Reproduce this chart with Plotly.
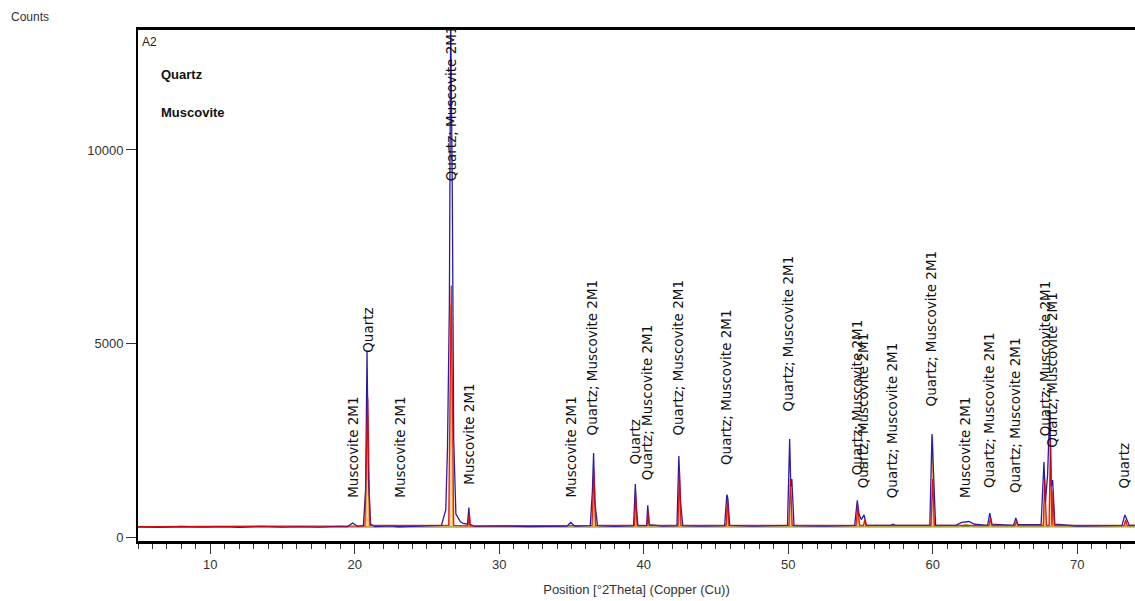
import plotly.graph_objects as go

obs_theta = [5.0, 6.5, 8.0, 9.5, 11.0, 12.0, 13.5, 15.0, 16.0, 17.5, 19.0, 19.5, 19.85, 20.2, 20.6, 20.75,
             20.85, 20.95, 21.1, 21.4, 22.5, 23.0, 24.5, 26.0,
             26.3, 26.42, 26.55, 26.64, 26.75, 26.85, 27.0, 27.3, 27.5, 27.8, 27.9, 27.98, 28.3,
             30.0, 32.0, 34.7, 34.95, 35.2, 36.3, 36.45, 36.53, 36.62, 36.8, 38.0, 39.3, 39.42, 39.5, 39.6,
             40.2, 40.28, 40.38, 41.3, 42.3, 42.43, 42.55, 42.7, 44.0, 45.6, 45.75, 45.82, 45.95,
             47.5, 49.95, 50.1, 50.18, 50.25, 50.4, 52.5, 54.6, 54.78, 54.9, 55.05, 55.25, 55.4,
             57.1, 57.25, 57.4, 59.8, 59.95, 60.05, 60.2, 61.6, 62.0, 62.5, 62.9,
             63.8, 63.95, 64.1, 65.6, 65.75, 65.9, 67.5, 67.7, 67.8, 67.95, 68.1, 68.2,
             68.3, 68.45, 70.0, 71.5, 73.1, 73.3, 73.45, 73.6, 74.0]
obs_counts = [265, 250, 272, 255, 268, 250, 275, 258, 270, 255, 275, 268, 360, 275, 300, 1200,
              4800, 1500, 330, 270, 290, 265, 285, 300,
              700, 2300, 6000, 13500, 9000, 2500, 600, 400, 350, 330, 760, 330, 275,
              290, 270, 285, 380, 285, 295, 1200, 2170, 900, 295, 275, 295, 1370, 700, 295,
              295, 820, 320, 280, 295, 2090, 900, 295, 280, 295, 1090, 1000, 300,
              280, 300, 2530, 1300, 1500, 295, 280, 300, 950, 600, 450, 570, 300,
              300, 330, 300, 300, 2660, 1500, 300, 300, 380, 400, 330,
              300, 620, 330, 300, 490, 320, 320, 1940, 900, 1600, 3280, 1300,
              1470, 330, 285, 300, 300, 570, 450, 300, 300]

# ---- calculated pattern (red) ----
calc_theta = [5.0, 20.7, 20.9, 21.05, 26.5, 26.68, 26.85, 27.82, 27.92, 28.0, 36.42, 36.55, 36.68,
              39.35, 39.45, 39.55, 40.22, 40.3, 40.4, 42.37, 42.47, 42.58, 45.7, 45.8, 45.9,
              50.05, 50.15, 50.28, 54.7, 54.8, 54.95, 55.2, 55.3, 55.4, 59.88, 60.0, 60.12,
              63.9, 64.0, 64.1, 65.7, 65.8, 65.9, 67.65, 67.75, 67.88, 68.05, 68.15, 68.25,
              68.32, 68.42, 73.25, 73.35, 73.45, 74.0]
calc_counts = [265, 290, 3600, 300, 300, 6500, 300, 290, 600, 290, 300, 1700, 300,
               300, 1100, 300, 300, 650, 300, 300, 1700, 300, 300, 950, 300,
               300, 1500, 300, 300, 800, 300, 300, 450, 300, 300, 1500, 300,
               300, 500, 300, 300, 420, 300, 300, 1500, 300, 300, 2500, 300,
               1200, 300, 300, 450, 300, 300]

# ---- phase profile (orange) ----
phase_theta = [5.0, 20.78, 20.88, 20.98, 26.55, 26.66, 26.78, 27.85, 27.9, 27.95, 36.47, 36.55, 36.63,
               39.4, 39.46, 39.52, 40.25, 40.3, 40.36, 42.42, 42.48, 42.54, 45.74, 45.8, 45.86,
               50.1, 50.17, 50.24, 54.75, 54.82, 54.9, 55.22, 55.28, 55.34, 59.94, 60.0, 60.07,
               61.8, 62.3, 62.8, 63.95, 64.0, 64.06, 65.75, 65.8, 65.86, 67.7, 67.76, 67.83,
               68.08, 68.16, 68.22, 68.28, 68.33, 68.4, 73.3, 73.35, 73.4, 74.0]
phase_counts = [258, 258, 4000, 258, 258, 6000, 258, 258, 450, 258, 258, 1500, 258,
                258, 900, 258, 258, 500, 258, 258, 1400, 258, 258, 1100, 258,
                258, 1300, 258, 258, 700, 258, 258, 380, 258, 258, 2600, 258,
                258, 330, 258, 258, 400, 258, 258, 350, 258, 258, 1300, 258,
                258, 2300, 258, 258, 900, 258, 258, 380, 258, 258]

# ---- background (green) ----
bg_theta = [5.0, 30.0, 60.0, 74.0]
bg_counts = [258, 262, 266, 266]

# ---- peak labels ----
label_theta = [19.83, 20.86, 23.08, 26.68, 27.85, 34.9, 36.44, 39.4, 40.24, 42.4, 45.7, 50.0,
               54.78, 55.2, 57.2, 59.9, 62.2, 63.9, 65.7, 67.8, 68.25, 73.3]
label_counts = [956, 4700, 956, 9150, 1290, 956, 2580, 1810, 1420, 2580, 1810, 3200,
                1550, 1215, 956, 3330, 956, 1215, 1085, 2560, 2250, 1215]
label_text = ["Muscovite 2M1", "Quartz", "Muscovite 2M1", "Quartz; Muscovite 2M1",
              "Muscovite 2M1", "Muscovite 2M1", "Quartz; Muscovite 2M1", "Quartz",
              "Quartz; Muscovite 2M1", "Quartz; Muscovite 2M1", "Quartz; Muscovite 2M1",
              "Quartz; Muscovite 2M1", "Quartz; Muscovite 2M1", "Quartz; Muscovite 2M1",
              "Quartz; Muscovite 2M1", "Quartz; Muscovite 2M1", "Muscovite 2M1",
              "Quartz; Muscovite 2M1", "Quartz; Muscovite 2M1", "Quartz; Muscovite 2M1",
              "Quartz; Muscovite 2M1", "Quartz"]

x_range = [5.0, 74.0]
y_range = [-103, 13100]
y_ticks = [0, 5000, 10000]
y_tick_labels = ["0", "5000", "10000"]

NARROW = "Liberation Sans Narrow, Liberation Sans, Arial"

fig = go.Figure()
fig.add_trace(go.Scatter(x=bg_theta, y=bg_counts, mode="lines",
                         line=dict(color="#2e8b2e", width=1), hoverinfo="skip"))
fig.add_trace(go.Scatter(x=phase_theta, y=phase_counts, mode="lines", fill="tonexty",
                         fillcolor="rgba(250,200,120,0.6)",
                         line=dict(color="#f0a030", width=1), hoverinfo="skip"))
fig.add_trace(go.Scatter(x=obs_theta, y=obs_counts, mode="lines",
                         line=dict(color="#2a1ca8", width=1.3), hoverinfo="skip"))
fig.add_trace(go.Scatter(x=calc_theta, y=calc_counts, mode="lines",
                         line=dict(color="rgba(225,0,0,0.85)", width=1.3), hoverinfo="skip"))

annotations = []
for t, c, s in zip(label_theta, label_counts, label_text):
    annotations.append(dict(x=t, y=c, xref="x", yref="y", text=s, textangle=-90,
                            showarrow=False, xanchor="center", yanchor="bottom",
                            font=dict(family="DejaVu Sans", size=13.5, color="#111")))

annotations += [
    dict(x=-0.108, y=1.025, xref="paper", yref="paper", text="Counts", showarrow=False,
         xanchor="center", yanchor="middle", font=dict(family=NARROW, size=12, color="#333")),
    dict(x=0.002, y=0.977, xref="paper", yref="paper", text="A2", showarrow=False,
         xanchor="left", yanchor="middle", font=dict(family=NARROW, size=12, color="#222")),
    dict(x=0.021, y=0.912, xref="paper", yref="paper", text="<b>Quartz</b>", showarrow=False,
         xanchor="left", yanchor="middle", font=dict(family=NARROW, size=13, color="#111")),
    dict(x=0.021, y=0.8395, xref="paper", yref="paper", text="<b>Muscovite</b>", showarrow=False,
         xanchor="left", yanchor="middle", font=dict(family=NARROW, size=13, color="#111")),
]

fig.update_layout(
    width=1135, height=601,
    margin=dict(l=138, r=0, t=30, b=60),
    paper_bgcolor="white", plot_bgcolor="white",
    showlegend=False,
    annotations=annotations,
    xaxis=dict(range=x_range, showgrid=False, zeroline=False,
               showline=True, linecolor="black", linewidth=2.5, mirror=True,
               ticks="outside", tick0=0, dtick=10, ticklen=10, tickwidth=1, tickcolor="#333",
               minor=dict(dtick=1, ticks="outside", ticklen=5, tickwidth=1, tickcolor="#333"),
               tickfont=dict(family=NARROW, size=13, color="#333"),
               title=dict(text="Position [°2Theta] (Copper (Cu))", standoff=14,
                          font=dict(family=NARROW, size=13, color="#333"))),
    yaxis=dict(range=y_range, showgrid=False, zeroline=False,
               showline=True, linecolor="black", linewidth=2,
               ticks="outside", tickvals=y_ticks, ticktext=y_tick_labels,
               ticklen=10, tickwidth=1, tickcolor="#333",
               tickfont=dict(family=NARROW, size=13, color="#333")),
)

fig.write_html("out.html", config={"displayModeBar": False},
               post_script="document.body.style.margin='0';document.body.style.overflow='hidden';")
